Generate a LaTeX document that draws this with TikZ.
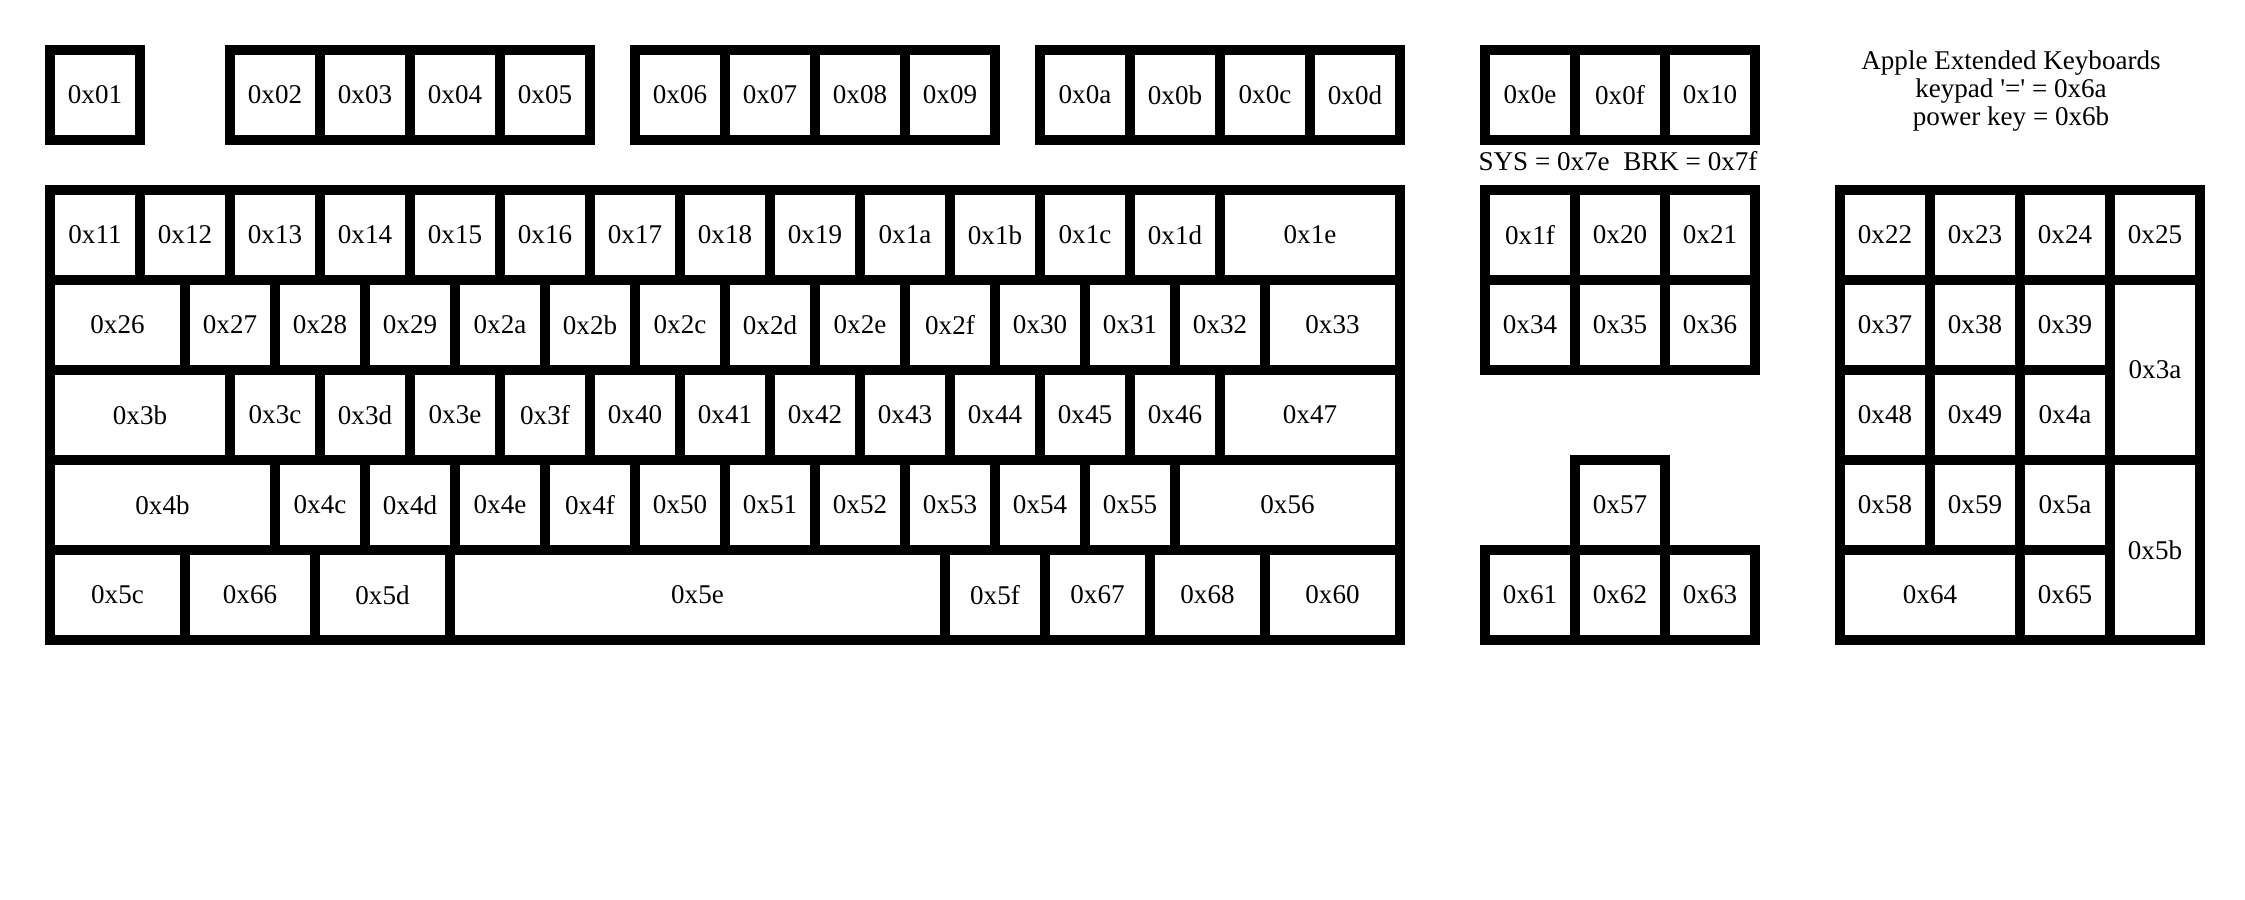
\documentclass[tikz,border=0pt]{standalone}
\usepackage{fontspec}
\setmainfont{Liberation Serif}
\usepackage{tikz}

\begin{document}
\begin{tikzpicture}[
      x=0.01cm, y=-0.01cm,
      key/.style={rectangle, draw=black, line width=0.1cm, minimum width=0.9cm, minimum height=0.9cm, inner sep=0pt, font=\fontsize{7.7}{8}\selectfont},
      note/.style={align=center, inner sep=0pt, font=\fontsize{7.7}{7.9}\selectfont}
    ]
      \fill[white] (0,0) rectangle (2245,900);

      % function row
      \node[key] (k01) at (95,95) {0x01};
      \node[key] (k02) at (275,95) {0x02};
      \node[key] (k03) at (365,95) {0x03};
      \node[key] (k04) at (455,95) {0x04};
      \node[key] (k05) at (545,95) {0x05};
      \node[key] (k06) at (680,95) {0x06};
      \node[key] (k07) at (770,95) {0x07};
      \node[key] (k08) at (860,95) {0x08};
      \node[key] (k09) at (950,95) {0x09};
      \node[key] (k0a) at (1085,95) {0x0a};
      \node[key] (k0b) at (1175,95) {0x0b};
      \node[key] (k0c) at (1265,95) {0x0c};
      \node[key] (k0d) at (1355,95) {0x0d};
      \node[key] (k0e) at (1530,95) {0x0e};
      \node[key] (k0f) at (1620,95) {0x0f};
      \node[key] (k10) at (1710,95) {0x10};

      % main block, row 1
      \node[key] (k11) at (95,235) {0x11};
      \node[key] (k12) at (185,235) {0x12};
      \node[key] (k13) at (275,235) {0x13};
      \node[key] (k14) at (365,235) {0x14};
      \node[key] (k15) at (455,235) {0x15};
      \node[key] (k16) at (545,235) {0x16};
      \node[key] (k17) at (635,235) {0x17};
      \node[key] (k18) at (725,235) {0x18};
      \node[key] (k19) at (815,235) {0x19};
      \node[key] (k1a) at (905,235) {0x1a};
      \node[key] (k1b) at (995,235) {0x1b};
      \node[key] (k1c) at (1085,235) {0x1c};
      \node[key] (k1d) at (1175,235) {0x1d};
      \node[key, minimum width=1.8cm] (k1e) at (1310,235) {0x1e};

      % row 2
      \node[key, minimum width=1.35cm] (k26) at (117.5,325) {0x26};
      \node[key] (k27) at (230,325) {0x27};
      \node[key] (k28) at (320,325) {0x28};
      \node[key] (k29) at (410,325) {0x29};
      \node[key] (k2a) at (500,325) {0x2a};
      \node[key] (k2b) at (590,325) {0x2b};
      \node[key] (k2c) at (680,325) {0x2c};
      \node[key] (k2d) at (770,325) {0x2d};
      \node[key] (k2e) at (860,325) {0x2e};
      \node[key] (k2f) at (950,325) {0x2f};
      \node[key] (k30) at (1040,325) {0x30};
      \node[key] (k31) at (1130,325) {0x31};
      \node[key] (k32) at (1220,325) {0x32};
      \node[key, minimum width=1.35cm] (k33) at (1332.5,325) {0x33};

      % row 3
      \node[key, minimum width=1.8cm] (k3b) at (140,415) {0x3b};
      \node[key] (k3c) at (275,415) {0x3c};
      \node[key] (k3d) at (365,415) {0x3d};
      \node[key] (k3e) at (455,415) {0x3e};
      \node[key] (k3f) at (545,415) {0x3f};
      \node[key] (k40) at (635,415) {0x40};
      \node[key] (k41) at (725,415) {0x41};
      \node[key] (k42) at (815,415) {0x42};
      \node[key] (k43) at (905,415) {0x43};
      \node[key] (k44) at (995,415) {0x44};
      \node[key] (k45) at (1085,415) {0x45};
      \node[key] (k46) at (1175,415) {0x46};
      \node[key, minimum width=1.8cm] (k47) at (1310,415) {0x47};

      % row 4
      \node[key, minimum width=2.25cm] (k4b) at (162.5,505) {0x4b};
      \node[key] (k4c) at (320,505) {0x4c};
      \node[key] (k4d) at (410,505) {0x4d};
      \node[key] (k4e) at (500,505) {0x4e};
      \node[key] (k4f) at (590,505) {0x4f};
      \node[key] (k50) at (680,505) {0x50};
      \node[key] (k51) at (770,505) {0x51};
      \node[key] (k52) at (860,505) {0x52};
      \node[key] (k53) at (950,505) {0x53};
      \node[key] (k54) at (1040,505) {0x54};
      \node[key] (k55) at (1130,505) {0x55};
      \node[key, minimum width=2.25cm] (k56) at (1287.5,505) {0x56};

      % row 5
      \node[key, minimum width=1.35cm] (k5c) at (117.5,595) {0x5c};
      \node[key, minimum width=1.3cm] (k66) at (250,595) {0x66};
      \node[key, minimum width=1.35cm] (k5d) at (382.5,595) {0x5d};
      \node[key, minimum width=4.95cm] (k5e) at (697.5,595) {0x5e};
      \node[key, minimum width=1cm] (k5f) at (995,595) {0x5f};
      \node[key, minimum width=1.05cm] (k67) at (1097.5,595) {0x67};
      \node[key, minimum width=1.15cm] (k68) at (1207.5,595) {0x68};
      \node[key, minimum width=1.35cm] (k60) at (1332.5,595) {0x60};

      % navigation and arrows
      \node[key] (k1f) at (1530,235) {0x1f};
      \node[key] (k20) at (1620,235) {0x20};
      \node[key] (k21) at (1710,235) {0x21};
      \node[key] (k34) at (1530,325) {0x34};
      \node[key] (k35) at (1620,325) {0x35};
      \node[key] (k36) at (1710,325) {0x36};
      \node[key] (k57) at (1620,505) {0x57};
      \node[key] (k61) at (1530,595) {0x61};
      \node[key] (k62) at (1620,595) {0x62};
      \node[key] (k63) at (1710,595) {0x63};

      % keypad
      \node[key] (k22) at (1885,235) {0x22};
      \node[key] (k23) at (1975,235) {0x23};
      \node[key] (k24) at (2065,235) {0x24};
      \node[key] (k25) at (2155,235) {0x25};
      \node[key] (k37) at (1885,325) {0x37};
      \node[key] (k38) at (1975,325) {0x38};
      \node[key] (k39) at (2065,325) {0x39};
      \node[key, minimum height=1.8cm] (k3a) at (2155,370) {0x3a};
      \node[key] (k48) at (1885,415) {0x48};
      \node[key] (k49) at (1975,415) {0x49};
      \node[key] (k4a) at (2065,415) {0x4a};
      \node[key] (k58) at (1885,505) {0x58};
      \node[key] (k59) at (1975,505) {0x59};
      \node[key] (k5a) at (2065,505) {0x5a};
      \node[key, minimum height=1.8cm] (k5b) at (2155,550) {0x5b};
      \node[key, minimum width=1.8cm] (k64) at (1930,595) {0x64};
      \node[key] (k65) at (2065,595) {0x65};

      \node[note, anchor=base] (sysbrk) at (1618,170) {SYS = 0x7e\ \ BRK = 0x7f};
      \node[note] (apple) at (2011,91) {Apple Extended Keyboards\\keypad \textquotesingle=\textquotesingle{} = 0x6a\\power key = 0x6b};
    \end{tikzpicture}
\end{document}
